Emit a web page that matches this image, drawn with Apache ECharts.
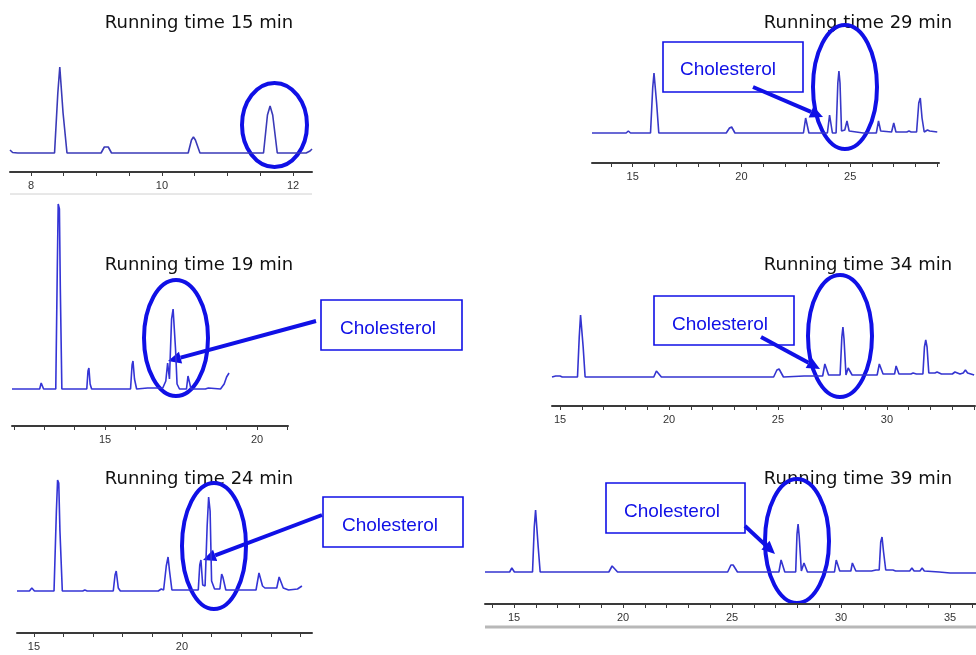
<!DOCTYPE html>
<html><head><meta charset="utf-8">
<script src="https://cdn.jsdelivr.net/npm/echarts@6/dist/echarts.min.js"></script>
<style>html,body{margin:0;padding:0;background:#fff}#c{width:976px;height:655px}</style>
</head><body><div id="c"></div>
<script>
// ---- data: chromatogram traces [time (min), signal] ----
const titles = ['Running time 15 min','Running time 29 min','Running time 19 min','Running time 34 min','Running time 24 min','Running time 39 min'];
const trace15 = [[7.68,3],[7.72,0.5],[7.8,0],[8.18,0],[8.21,1],[8.24,0],[8.36,0],[8.41,60],[8.44,86],[8.46,84],[8.49,40],[8.55,0],[9.07,0],[9.12,6],[9.15,8],[9.18,6],[9.23,0],[10.4,0],[10.45,13],[10.48,16],[10.51,13],[10.58,0],[11.55,0],[11.61,38],[11.65,47],[11.69,38],[11.76,0],[12.2,0],[12.26,2],[12.29,4]];
const trace29 = [[13.13,0],[14.7,0],[14.8,2],[14.9,0],[15.82,0],[15.92,45],[15.98,60],[16.04,58],[16.1,30],[16.2,0],[17.35,0],[17.4,1],[17.45,0],[19.3,0],[19.45,5],[19.55,6],[19.7,0],[22.85,0],[22.95,15],[23.02,17],[23.1,0],[23.95,0],[24.05,18],[24.1,20],[24.18,0],[24.35,0],[24.43,50],[24.48,62],[24.53,50],[24.6,2],[24.75,3],[24.85,12],[24.95,2],[25.6,0],[26.2,0],[26.3,12],[26.4,2],[26.9,1],[27.0,10],[27.1,1],[27.6,1],[27.7,2],[27.8,1],[28.05,1],[28.15,30],[28.22,35],[28.3,15],[28.4,1],[28.55,3],[28.65,2],[29.0,1]];
const trace19 = [[11.94,0],[12.85,0],[12.9,6],[12.93,7],[12.98,0],[13.38,0],[13.43,120],[13.46,185],[13.5,180],[13.53,100],[13.58,0],[13.74,0],[13.78,1],[13.84,0],[14.4,0],[14.44,18],[14.47,21],[14.51,5],[14.56,0],[15.84,0],[15.89,24],[15.92,28],[15.97,10],[16.04,0],[16.4,1],[16.9,1],[17.0,8],[17.06,26],[17.12,10],[17.19,70],[17.24,80],[17.28,60],[17.32,40],[17.37,5],[17.45,0],[17.68,0],[17.73,13],[17.77,15],[17.83,0],[18.3,0],[18.4,1],[18.8,0],[18.92,5],[19.0,12],[19.08,16]];
const trace34 = [[14.63,0],[14.8,1],[15.0,1],[15.1,0],[15.8,0],[15.88,40],[15.94,62],[16.0,60],[16.06,30],[16.15,0],[19.3,0],[19.42,6],[19.5,7],[19.65,0],[24.8,0],[24.95,7],[25.05,8],[25.25,0],[26.2,1],[27.05,1],[27.15,13],[27.22,14],[27.32,2],[27.85,2],[27.93,40],[27.98,50],[28.03,38],[28.12,2],[28.22,9],[28.3,10],[28.4,2],[29.55,2],[29.65,13],[29.72,14],[29.82,3],[30.35,3],[30.42,11],[30.48,10],[30.55,3],[31.1,3],[31.2,4],[31.35,3],[31.65,3],[31.72,30],[31.78,37],[31.84,30],[31.92,4],[32.2,4],[32.3,5],[32.5,3],[33.0,3],[33.12,5],[33.2,6],[33.35,3],[33.5,4],[33.6,7],[33.7,4],[34.0,2]];
const trace24 = [[14.43,0],[14.85,0],[14.93,3],[15.02,0],[15.68,0],[15.76,80],[15.8,111],[15.84,108],[15.88,60],[15.96,0],[16.65,0],[16.72,1],[16.8,0],[17.68,0],[17.74,16],[17.78,20],[17.85,3],[17.92,0],[19.2,0],[19.3,2],[19.38,1],[19.47,25],[19.53,34],[19.58,20],[19.66,1],[19.95,1],[20.0,2],[20.1,1],[20.55,1],[20.6,26],[20.64,31],[20.7,6],[20.78,5],[20.85,65],[20.9,94],[20.95,80],[21.0,10],[21.1,2],[21.28,2],[21.34,17],[21.38,14],[21.48,1],[22.5,1],[22.6,18],[22.65,20],[22.72,5],[22.8,3],[23.2,3],[23.28,14],[23.33,15],[23.42,3],[23.6,1],[23.9,2],[24.05,5]];
const trace39 = [[13.67,0],[14.8,0],[14.9,4],[15.02,0],[15.85,0],[15.93,45],[15.99,62],[16.05,60],[16.11,25],[16.2,0],[19.35,0],[19.5,6],[19.58,6],[19.75,0],[24.8,0],[24.95,7],[25.05,7],[25.25,0],[27.15,0],[27.25,12],[27.32,13],[27.42,0],[27.92,0],[27.98,38],[28.03,48],[28.08,36],[28.18,1],[28.3,9],[28.36,9],[28.46,0],[29.7,0],[29.78,12],[29.84,13],[29.94,1],[30.45,1],[30.52,9],[30.58,8],[30.68,1],[31.2,1],[31.25,2],[31.4,1],[31.6,2],[31.75,2],[31.82,30],[31.88,35],[31.95,20],[32.05,2],[32.38,2],[32.5,1],[33.15,1],[33.25,4],[33.35,1],[33.62,1],[33.72,4],[33.82,1],[34.5,0],[35.0,-1],[35.5,-1],[36.19,-1]];
// tick positions and tick labels
const ticks15 = [8,8.5,9,9.5,10,10.5,11,11.5,12];
const labels15 = [8,10,12];
const ticks29 = [14,15,16,17,18,19,20,21,22,23,24,25,26,27,28,29];
const labels29 = [15,20,25];
const ticks19 = [12,13,14,15,16,17,18,19,20,21];
const labels19 = [15,20];
const ticks34 = [15,16,17,18,19,20,21,22,23,24,25,26,27,28,29,30,31,32,33,34];
const labels34 = [15,20,25,30];
const ticks24 = [15,16,17,18,19,20,21,22,23,24];
const labels24 = [15,20];
const ticks39 = [14,15,16,17,18,19,20,21,22,23,24,25,26,27,28,29,30,31,32,33,34,35,36];
const labels39 = [15,20,25,30,35];

// ---- layout ----
const panels = [
  {data:trace15, ticks:ticks15, labels:labels15, left:10,  width:302, top:60,  height:112, xmin:7.68,  xmax:12.29, ymin:-19, ymax:93, color:'#3a3ab8'},
  {data:trace29, ticks:ticks29, labels:labels29, left:592, width:347, top:60,  height:103, xmin:13.13, xmax:29.08, ymin:-30, ymax:73, color:'#3838c8'},
  {data:trace19, ticks:ticks19, labels:labels19, left:12,  width:276, top:200, height:226, xmin:11.94, xmax:21.02, ymin:-37, ymax:189, color:'#3434d6'},
  {data:trace34, ticks:ticks34, labels:labels34, left:552, width:423, top:300, height:106, xmin:14.63, xmax:34.04, ymin:-29, ymax:77, color:'#3434d0'},
  {data:trace24, ticks:ticks24, labels:labels24, left:17,  width:295, top:470, height:163, xmin:14.43, xmax:24.39, ymin:-42, ymax:121, color:'#3434d6'},
  {data:trace39, ticks:ticks39, labels:labels39, left:485, width:491, top:490, height:114, xmin:13.67, xmax:36.19, ymin:-32, ymax:82, color:'#3434d0'}
];
const titlePos = [[199,23],[858,23],[199,265],[858,265],[199,479],[858,479]];
const ellipses = [[274.5,125,32.5,42],[845,87,32,62],[176,338,32,58],[840,336,32,61],[214,546,32,63],[797,541,32,62]];
const boxes = [null,[663,42,140,50],[321,300,141,50],[654,296,140,49],[323,497,140,50],[606,483,139,50]];
const boxText = [null,[728,70],[388,329],[720,325],[390,526],[672,512]];
const arrows = [null,[753,87,823,117],[316,321,168,361],[761,337,820,369],[322,515,203,560],[745,526,775,554]];

const BLUE = '#1010e6';
const grid=[], xAxis=[], yAxis=[], series=[], graphic=[];
panels.forEach((p,i)=>{
  grid.push({left:p.left, width:p.width, top:p.top, height:p.height});
  xAxis.push({type:'value', gridIndex:i, min:p.xmin, max:p.xmax,
    axisLine:{show:true, onZero:false, lineStyle:{color:'#3a3a3a', width:2}},
    axisTick:{show:true, customValues:p.ticks, length:4, lineStyle:{color:'#3a3a3a', width:1}},
    axisLabel:{show:true, customValues:p.labels, color:'#333', fontSize:11, margin:8, fontFamily:'Liberation Sans'},
    splitLine:{show:false}});
  yAxis.push({type:'value', gridIndex:i, min:p.ymin, max:p.ymax, show:false, splitLine:{show:false}});
  series.push({type:'line', xAxisIndex:i, yAxisIndex:i, data:p.data, showSymbol:false, symbol:'none',
    lineStyle:{color:p.color, width:1.6}, silent:true, clip:false});
});
// frame lines
graphic.push({type:'line', shape:{x1:10,y1:194,x2:312,y2:194}, style:{stroke:'#d0d0d0', lineWidth:1}});
graphic.push({type:'line', shape:{x1:485,y1:627,x2:976,y2:627}, style:{stroke:'#b8b8b8', lineWidth:3}});
// titles
titles.forEach((t,i)=>{
  graphic.push({type:'text', x:titlePos[i][0], y:titlePos[i][1], style:{text:t, fill:'#111', font:'18px "DejaVu Sans"', align:'center', verticalAlign:'middle'}});
});
// boxes
boxes.forEach((b,i)=>{
  if(!b) return;
  graphic.push({type:'rect', shape:{x:b[0],y:b[1],width:b[2],height:b[3]}, style:{fill:'#fff', stroke:BLUE, lineWidth:1.6}});
  graphic.push({type:'text', x:boxText[i][0], y:boxText[i][1], style:{text:'Cholesterol', fill:BLUE, font:'19px "Liberation Sans"', align:'center', verticalAlign:'middle'}});
});
// ellipses
ellipses.forEach(e=>{
  graphic.push({type:'ellipse', shape:{cx:e[0],cy:e[1],rx:e[2],ry:e[3]}, style:{fill:'none', stroke:BLUE, lineWidth:4}});
});
// arrows
arrows.forEach(a=>{
  if(!a) return;
  const [x1,y1,x2,y2]=a; const dx=x2-x1, dy=y2-y1, L=Math.hypot(dx,dy); const ux=dx/L, uy=dy/L;
  const hl=13, hw=6;
  const bx=x2-ux*hl, by=y2-uy*hl;
  graphic.push({type:'line', shape:{x1:x1,y1:y1,x2:bx,y2:by}, style:{stroke:BLUE, lineWidth:4}});
  graphic.push({type:'polygon', shape:{points:[[x2,y2],[bx-uy*hw,by+ux*hw],[bx+uy*hw,by-ux*hw]]}, style:{fill:BLUE}});
});

const chart = echarts.init(document.getElementById('c'), null, {renderer:'canvas'});
chart.setOption({animation:false, backgroundColor:'#fff', grid, xAxis, yAxis, series, graphic});
</script></body></html>
